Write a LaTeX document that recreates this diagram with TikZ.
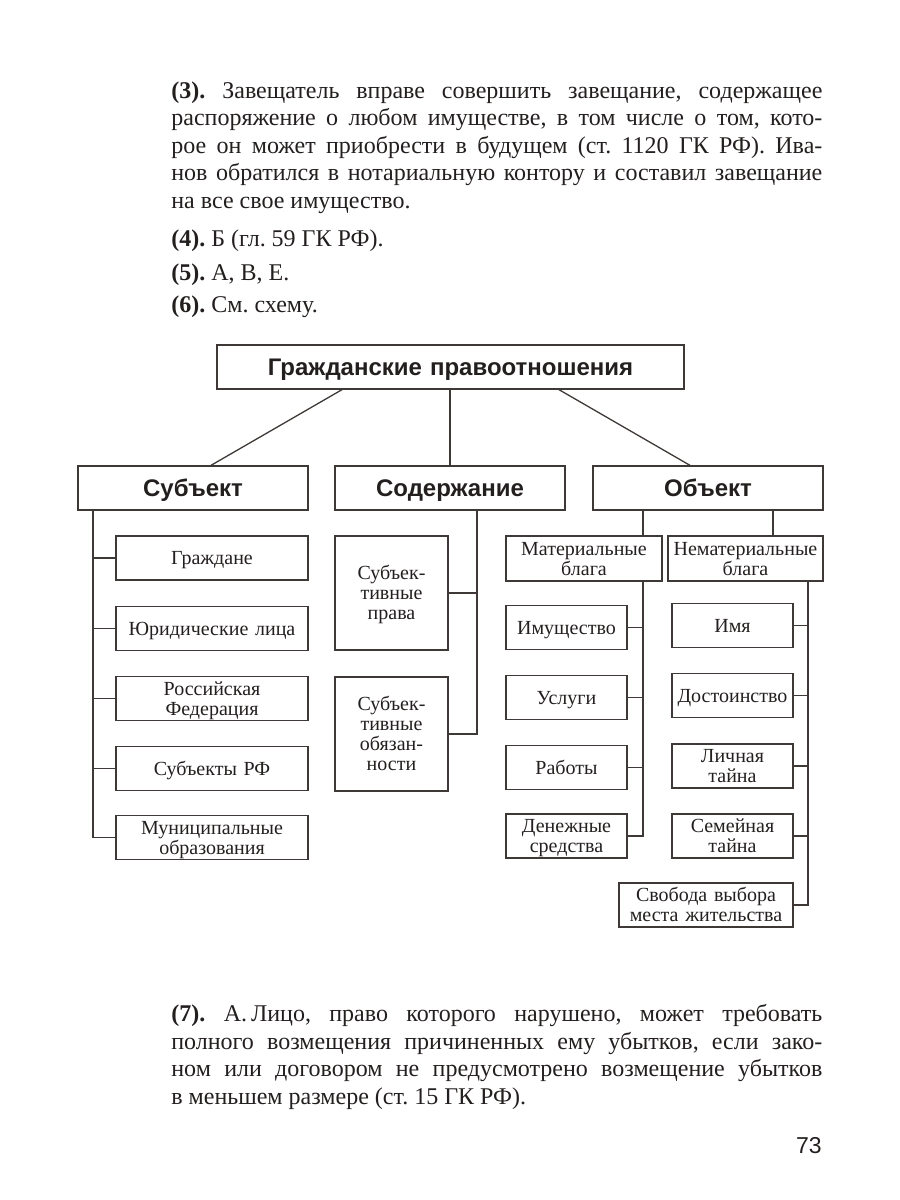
\documentclass[tikz,border=0pt]{standalone}
\usepackage{fontspec}
\setmainfont{Liberation Serif}
\newfontfamily\hsans{Liberation Sans}
\definecolor{ink}{RGB}{35,31,30}
\definecolor{rulec}{RGB}{62,57,54}
\newcommand{\jline}[1]{\makebox[325.5pt][s]{#1}}
\frenchspacing
\begin{document}
\frenchspacing
\begin{tikzpicture}[x=0.5pt,y=-0.5pt,
  sz/.style n args={3}{minimum width=#1*0.5pt,minimum height=#2*0.5pt,text width=#1*0.5pt,text depth=#3},
  box/.style={draw=rulec,line width=0.65pt,inner sep=0pt,align=center,text=ink,
    text height=6.6pt,font=\fontsize{10}{10}\selectfont},
  head/.style={box,text height=8.6pt,font=\hsans\bfseries\fontsize{12}{13}\selectfont},
  conn/.style={draw=rulec,line width=0.65pt},
  para/.style={anchor=base west,inner sep=0pt,text=ink,font=\fontsize{12}{14}\selectfont}]
\useasboundingbox (0,0) rectangle (900,1200);
% paragraph text
\node[para] (p1) at (171,98) {\jline{\textbf{(3).} Завещатель вправе совершить завещание, содержащее}};
\node[para] (p2) at (171,125.5) {\jline{распоряжение о любом имуществе, в том числе о том, кото-}};
\node[para] (p3) at (171,153) {\jline{рое он может приобрести в будущем (ст. 1120 ГК РФ). Ива-}};
\node[para] (p4) at (171,180.5) {\jline{нов обратился в нотариальную контору и составил завещание}};
\node[para] (p5) at (171,208) {на все свое имущество.};
\node[para] (p6) at (171,246.5) {\textbf{(4).} Б (гл. 59 ГК РФ).};
\node[para] (p7) at (171,280) {\textbf{(5).} А, В, Е.};
\node[para] (p8) at (171,312) {\textbf{(6).} См. схему.};
% top levels
\node[head,sz={467}{44}{0pt}] (top) at (450.5,367) {Гражданские правоотношения};
\node[head,sz={230}{44}{0pt}] (subj) at (193,488) {Субъект};
\node[head,sz={230}{44}{0pt}] (cont) at (450,488) {Содержание};
\node[head,sz={230}{44}{0pt}] (obj) at (708,488) {Объект};
\coordinate (tl) at (342,0);
\coordinate (tr) at (559,0);
\coordinate (bl) at (211,0);
\coordinate (br) at (690,0);
\draw[conn] (top.south -| tl) -- (subj.north -| bl);
\draw[conn] (cont.north |- top.south) -- (cont.north);
\draw[conn] (top.south -| tr) -- (obj.north -| br);
% subject column
\node[box,sz={192}{44}{0pt}] (s1) at (212,558) {Граждане};
\node[box,sz={192}{44}{0pt}] (s2) at (212,628.5) {Юридические лица};
\node[box,sz={192}{44}{10pt}] (s3) at (212,698.5) {Российская\\Федерация};
\node[box,sz={192}{44}{0pt}] (s4) at (212,768.5) {Субъекты РФ};
\node[box,sz={192}{44}{10pt}] (s5) at (212,837.5) {Муниципальные\\образования};
\coordinate (sbus) at (93,0);
\draw[conn] (subj.south -| sbus) |- (s5.west);
\foreach \i in {1,...,4} \draw[conn] (s\i.west) -- (s\i.west -| sbus);
% content column
\node[box,sz={113}{114}{20pt}] (k1) at (391.5,593) {Субъек-\\тивные\\права};
\node[box,sz={113}{114}{30pt}] (k2) at (391.5,734) {Субъек-\\тивные\\обязан-\\ности};
\coordinate (cbus) at (477,0);
\draw[conn] (cont.south -| cbus) |- (k2.east);
\draw[conn] (k1.east) -- (k1.east -| cbus);
% object column
\node[box,sz={156}{45}{10pt}] (mat) at (584,558.5) {Материальные\\блага};
\node[box,sz={155}{45}{10pt}] (nmat) at (745.5,558.5) {Нематериальные\\блага};
\coordinate (mbus) at (643,0);
\coordinate (ntop) at (773,0);
\coordinate (nbus) at (808,0);
\draw[conn] (obj.south -| mbus) -- (mat.north -| mbus);
\draw[conn] (obj.south -| ntop) -- (nmat.north -| ntop);
\node[box,sz={121}{44}{0pt}] (m1) at (566.5,627.5) {Имущество};
\node[box,sz={121}{44}{0pt}] (m2) at (566.5,697.5) {Услуги};
\node[box,sz={121}{44}{0pt}] (m3) at (566.5,767.5) {Работы};
\node[box,sz={121}{44}{10pt}] (m4) at (566.5,836) {Денежные\\средства};
\draw[conn] (mat.south -| mbus) |- (m4.east);
\foreach \i in {1,2,3} \draw[conn] (m\i.east) -- (m\i.east -| mbus);
\node[box,sz={121}{44}{0pt}] (n1) at (732.5,625.5) {Имя};
\node[box,sz={121}{44}{0pt}] (n2) at (732.5,695.5) {Достоинство};
\node[box,sz={121}{44}{10pt}] (n3) at (732.5,766) {Личная\\тайна};
\node[box,sz={121}{44}{10pt}] (n4) at (732.5,836) {Семейная\\тайна};
\node[box,sz={174}{44}{10pt}] (n5) at (706,905) {Свобода выбора\\места жительства};
\draw[conn] (nmat.south -| nbus) |- (n5.east);
\foreach \i in {1,...,4} \draw[conn] (n\i.east) -- (n\i.east -| nbus);
% bottom text
\node[para] (q1) at (171,1021.5) {\jline{\textbf{(7).} А.\,Лицо, право которого нарушено, может требовать}};
\node[para] (q2) at (171,1049) {\jline{полного возмещения причиненных ему убытков, если зако-}};
\node[para] (q3) at (171,1076.5) {\jline{ном или договором не предусмотрено возмещение убытков}};
\node[para] (q4) at (171,1104) {в меньшем размере (ст. 15 ГК РФ).};
\node[anchor=base east,inner sep=0pt,text=ink,font=\hsans\fontsize{11.5}{13}\selectfont] (pg) at (822,1153) {73};
\end{tikzpicture}
\end{document}
